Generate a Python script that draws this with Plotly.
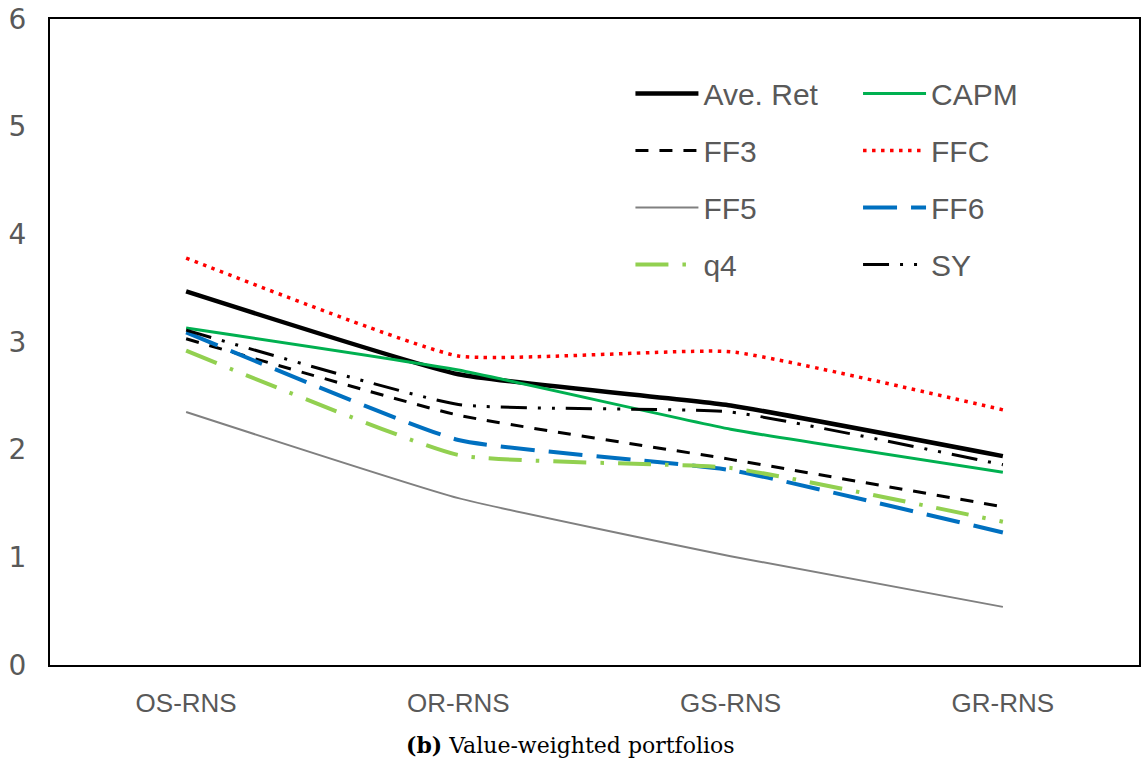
import plotly.graph_objects as go

categories = ["OS-RNS", "OR-RNS", "GS-RNS", "GR-RNS"]
ave_ret = [3.47, 2.70, 2.41, 1.94]
capm = [3.13, 2.74, 2.19, 1.79]
ff3 = [3.03, 2.32, 1.91, 1.47]
ffc = [3.78, 2.87, 2.91, 2.37]
ff5 = [2.35, 1.55, 1.01, 0.54]
ff6 = [3.09, 2.09, 1.81, 1.23]
q4 = [2.92, 1.95, 1.83, 1.33]
sy = [3.11, 2.42, 2.35, 1.86]
y_ticks = [0, 1, 2, 3, 4, 5, 6]

series = [
    ("Ave. Ret", ave_ret, "#000000", 4.5, "solid", "legend"),
    ("CAPM", capm, "#00B050", 3, "solid", "legend2"),
    ("FF3", ff3, "#000000", 3, "13px,11px", "legend"),
    ("FFC", ffc, "#FF0000", 3.5, "3.5px,5.5px", "legend2"),
    ("FF5", ff5, "#808080", 2, "solid", "legend"),
    ("FF6", ff6, "#0070C0", 4, "34px,14px", "legend2"),
    ("q4", q4, "#92D050", 4, "33px,14px,3.5px,14px", "legend"),
    ("SY", sy, "#000000", 3, "26px,11px,3px,11px,3px,11px", "legend2"),
]

fig = go.Figure()
for name, vals, color, width, dash, leg in series:
    fig.add_trace(go.Scatter(
        x=categories, y=vals, name=name, mode="lines",
        line=dict(color=color, width=width, dash=dash, shape="spline", smoothing=0.4),
        legend=leg, legendgroup=name, hoverinfo="skip",
    ))

legend_font = dict(family="Liberation Sans, Arial, sans-serif", size=30, color="#595959")
common_legend = dict(
    font=legend_font, bgcolor="rgba(0,0,0,0)", borderwidth=0,
    itemwidth=63, tracegroupgap=15, traceorder="grouped",
    yanchor="top", y=0.925, xanchor="left",
)

fig.update_layout(
    width=1144, height=767,
    margin=dict(l=50, r=3, t=19, b=102),
    paper_bgcolor="white", plot_bgcolor="white",
    showlegend=True,
    legend=dict(x=0.533, **common_legend),
    legend2=dict(x=0.742, **common_legend),
    xaxis=dict(
        type="category", categoryarray=categories, range=[-0.5, 3.5],
        showgrid=False, zeroline=False,
        showline=True, linecolor="#000000", linewidth=2, mirror=True,
        ticks="", ticklabelstandoff=14,
        tickfont=dict(family="Liberation Sans, Arial, sans-serif", size=26, color="#595959"),
    ),
    yaxis=dict(
        range=[0, 6], tickvals=y_ticks, ticktext=[str(v) for v in y_ticks],
        showgrid=False, zeroline=False,
        showline=True, linecolor="#000000", linewidth=2, mirror=True,
        ticks="", ticklabelstandoff=16,
        tickfont=dict(family="DejaVu Sans, sans-serif", size=28, color="#595959"),
    ),
    annotations=[dict(
        text="<b>(b)</b> Value-weighted portfolios",
        xref="paper", yref="paper", x=0.478, y=-0.124,
        xanchor="center", yanchor="middle", showarrow=False,
        font=dict(family="DejaVu Serif, Liberation Serif, serif", size=22, color="#000000"),
    )],
)

fig.write_html("out.html")
